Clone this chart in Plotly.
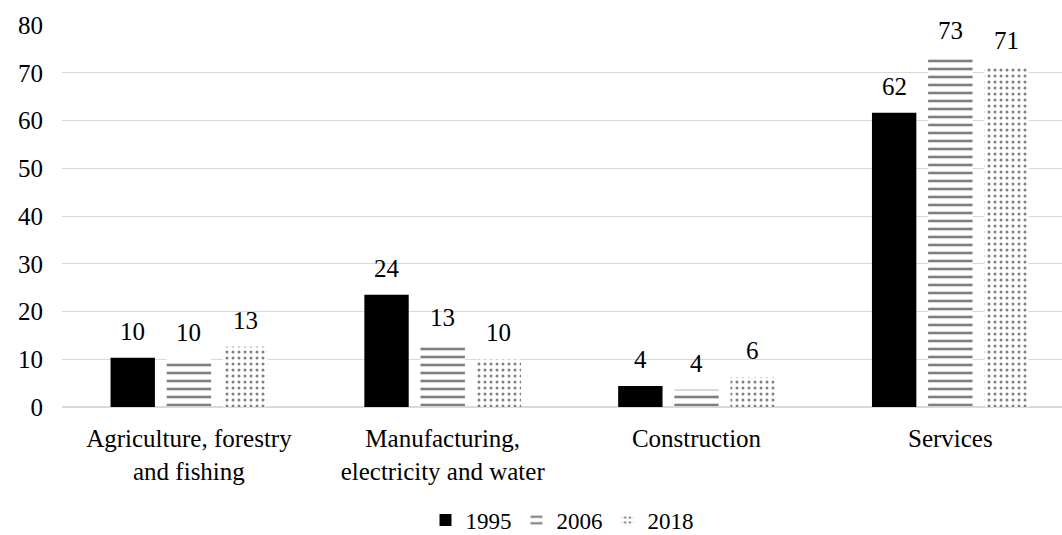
import plotly.graph_objects as go

categories = ["Agriculture, forestry<br>and fishing", "Manufacturing,<br>electricity and water", "Construction", "Services"]
years = ["1995", "2006", "2018"]
v1995 = [10.3, 23.5, 4.4, 61.6]
v2006 = [10.05, 13.2, 3.6, 73.3]
v2018 = [12.6, 10.0, 6.3, 71.2]

FONT = "'Liberation Serif', 'Times New Roman', serif"
FS = 25
W, H = 1062, 535
ML, MR, MT, MB = 62, 0, 25, 128
XR = [-0.5, 3.44]
BARGAP = 0.336
fig = go.Figure()
styles = [
    dict(color="black"),
    dict(color="white", pattern=dict(shape="-", fgcolor="black", bgcolor="white", size=8, solidity=0.33)),
    dict(color="white", pattern=dict(shape=".", fgcolor="black", bgcolor="white", size=6, solidity=0.2)),
]
series = [v1995, v2006, v2018]
for name, vals, st in zip(years, series, styles):
    fig.add_trace(go.Bar(
        x=categories, y=vals, name=name,
        marker=dict(**st, line=dict(width=0)),
    ))

# value labels above bars, offset to each bar's slot in its group
unit_px = (W - ML - MR) / (XR[1] - XR[0])
pitch = unit_px * (1 - BARGAP) / 3
for i, vals in enumerate(series):
    for c, v in zip(categories, vals):
        fig.add_annotation(x=c, y=v, text=f"{round(v):d}", showarrow=False,
                           xshift=(i - 1) * pitch, yshift=11, yanchor="bottom",
                           font=dict(family=FONT, size=FS, color="black"))

fig.update_layout(
    width=W, height=H, barmode="group", bargap=BARGAP, bargroupgap=0.21,
    plot_bgcolor="white", paper_bgcolor="white",
    margin=dict(l=ML, r=MR, t=MT, b=MB, autoexpand=False),
    font=dict(family=FONT, size=FS, color="black"),
    legend=dict(orientation="h", x=0.5, xanchor="center", y=-0.296, yanchor="middle",
                font=dict(family=FONT, size=23), traceorder="normal", itemwidth=30),
    yaxis=dict(range=[0, 80], dtick=10, showgrid=True, gridcolor="#d9d9d9", gridwidth=1,
               zeroline=True, zerolinecolor="#d9d9d9", ticks="", tickfont=dict(size=FS),
               ticklabelstandoff=18),
    xaxis=dict(range=XR, showline=False, ticks="", tickfont=dict(size=FS), ticklabelstandoff=14),
)
fig.write_html("out.html")
